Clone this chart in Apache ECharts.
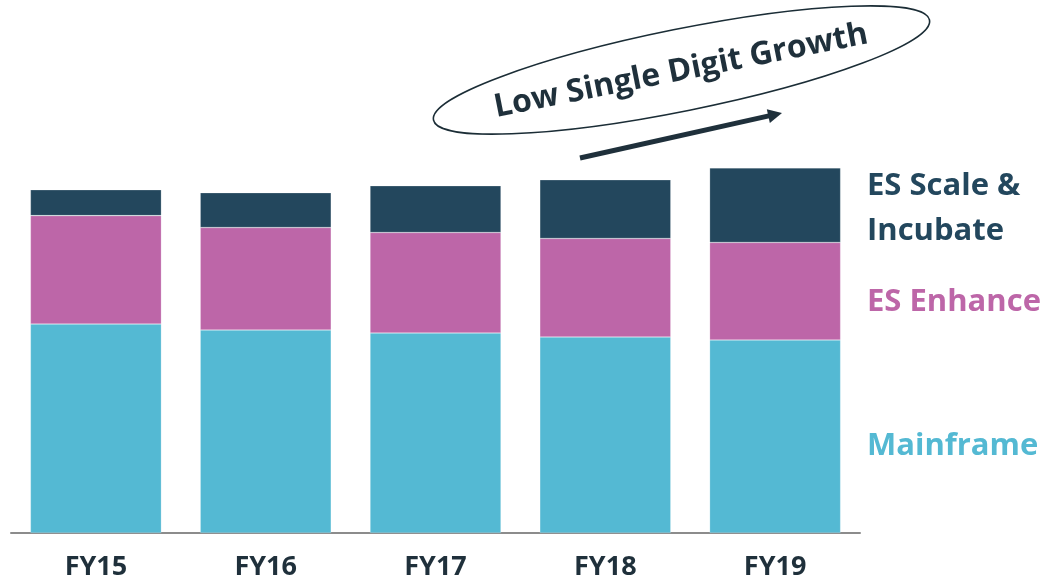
<!DOCTYPE html>
<html>
<head>
<meta charset="utf-8">
<script src="https://cdn.jsdelivr.net/npm/echarts@6/dist/echarts.min.js"></script>
<style>
html,body{margin:0;padding:0;background:#fff;}
#chart{width:1041px;height:581px;}
</style>
</head>
<body>
<div id="chart"></div>
<script>
var categories = ['FY15', 'FY16', 'FY17', 'FY18', 'FY19'];
var mainframe = [210, 204, 201, 197, 194];
var esEnhance = [109, 103, 101, 99, 98];
var esScaleIncubate = [26, 35, 47, 59, 75];
var seriesNames = ['Mainframe', 'ES Enhance', 'ES Scale & Incubate'];

var FONT = '"Open Sans", "Lato", sans-serif';
var cMain = '#54B9D3', cEnh = '#BD66A8', cScale = '#23475D';

var chart = echarts.init(document.getElementById('chart'), null, {renderer: 'canvas'});

function bar(name, data, color) {
  return {
    name: name, type: 'bar', stack: 'total', data: data, barWidth: 131,
    itemStyle: {color: color, borderColor: 'rgba(255,255,255,0.35)', borderWidth: 0.6},
    emphasis: {disabled: true}, animation: false
  };
}

var arrowAngle = Math.atan2(45, 202);
var arrowLen = Math.sqrt(202 * 202 + 45 * 45);

chart.setOption({
  animation: false,
  backgroundColor: '#ffffff',
  grid: {left: 11, right: 181, top: 135, bottom: 46, containLabel: false},
  xAxis: {
    type: 'category', data: categories,
    axisLine: {show: true, lineStyle: {color: '#8c8c8c', width: 2}},
    axisTick: {show: false},
    axisLabel: {color: '#1f303b', fontFamily: FONT, fontWeight: 'bold', fontSize: 27, margin: 21}
  },
  yAxis: {type: 'value', min: 0, max: 400, show: false, splitLine: {show: false}},
  series: [
    bar(seriesNames[0], mainframe, cMain),
    bar(seriesNames[1], esEnhance, cEnh),
    bar(seriesNames[2], esScaleIncubate, cScale)
  ],
  graphic: [
    {type: 'ellipse', x: 681.5, y: 70, rotation: 0.199, silent: true,
      shape: {cx: 0, cy: 0, rx: 253, ry: 41},
      style: {fill: 'none', stroke: '#1b2d36', lineWidth: 1.6}},
    {type: 'text', x: 681, y: 71, rotation: 0.196, silent: true,
      style: {text: 'Low Single Digit Growth', fill: '#1f303b', font: 'bold 32px ' + FONT,
        textAlign: 'center', textVerticalAlign: 'middle'}},
    {type: 'group', x: 580, y: 158, rotation: arrowAngle, silent: true, children: [
      {type: 'line', shape: {x1: 0, y1: 0, x2: arrowLen - 10, y2: 0},
        style: {stroke: '#1f303b', lineWidth: 5}},
      {type: 'polygon', shape: {points: [[arrowLen - 14, -7], [arrowLen, 0], [arrowLen - 14, 7]]},
        style: {fill: '#1f303b'}}
    ]},
    {type: 'text', left: 867, top: 164, silent: true,
      style: {text: 'ES Scale &\nIncubate', fill: cScale, font: 'bold 31px ' + FONT, lineHeight: 45}},
    {type: 'text', left: 867, top: 287, silent: true,
      style: {text: 'ES Enhance', fill: cEnh, font: 'bold 31px ' + FONT}},
    {type: 'text', left: 867, top: 431, silent: true,
      style: {text: 'Mainframe', fill: cMain, font: 'bold 31px ' + FONT}}
  ]
});
</script>
</body>
</html>
